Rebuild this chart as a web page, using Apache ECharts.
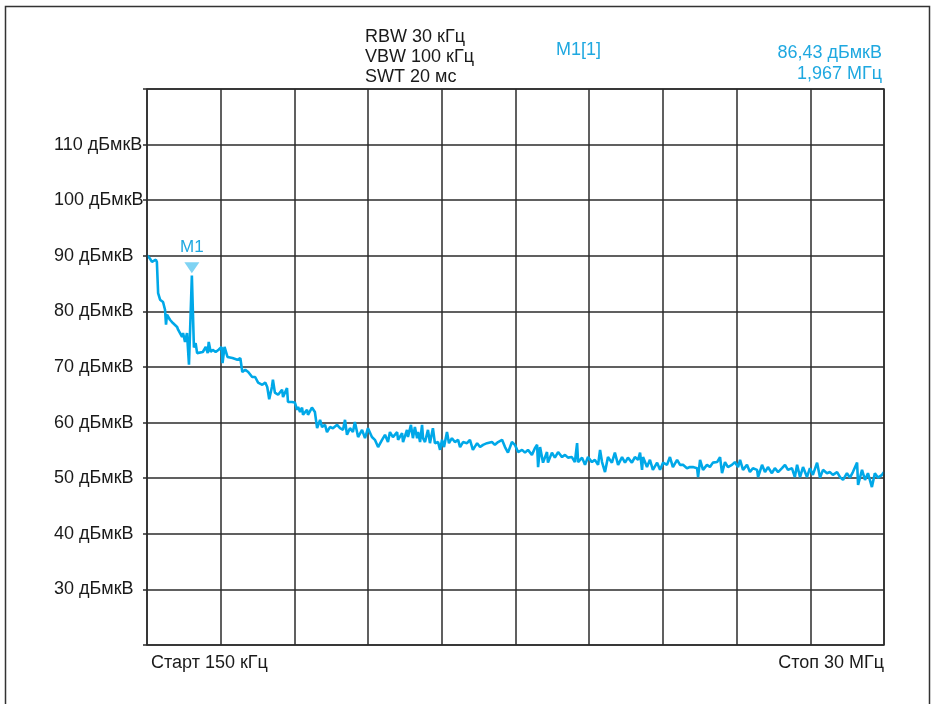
<!DOCTYPE html>
<html><head><meta charset="utf-8">
<script src="https://cdn.jsdelivr.net/npm/echarts@6/dist/echarts.min.js"></script>
<style>html,body{margin:0;padding:0;background:#fff}#c{width:934px;height:704px}</style>
</head><body><div id="c"></div>
<script>
// Frequency in MHz
const freqMHz = [
0.15,0.27,0.35,0.43,0.51,0.55,0.60,0.68,0.80,0.88,0.92,0.96,1.08,1.20,1.37,1.41,1.49,1.57,1.61,1.69,1.77,1.85,1.967,
2.05,2.12,2.18,2.24,2.41,2.53,2.61,2.65,2.73,2.81,2.93,3.05,3.17,3.21,3.29,3.41,3.61,3.81,3.93,4.01,4.13,4.25,4.41,4.53,4.65,4.82,4.94,5.02,5.10,
5.21,5.25,5.33,5.46,5.62,5.66,5.82,5.86,6.02,6.14,6.23,6.27,6.35,6.43,6.47,6.63,6.67,6.83,6.95,7.04,7.16,7.24,7.36,7.44,7.56,7.68,7.85,7.97,8.09,8.17,8.25,8.37,8.49,8.57,8.70,8.86,8.98,9.10,9.26,9.38,9.51,9.67,9.79,9.91,
9.99,10.11,10.28,10.32,10.48,10.52,10.68,10.72,10.84,10.92,11.00,11.09,11.13,11.21,11.29,11.33,11.41,11.53,11.61,11.73,11.81,11.94,12.02,12.10,12.18,12.30,12.38,12.50,12.62,12.75,12.83,12.95,13.11,13.23,13.35,13.52,13.64,13.76,13.92,14.12,14.24,14.37,14.53,14.65,
14.77,14.93,15.05,15.18,15.34,15.46,15.58,15.74,15.86,15.95,15.99,16.07,16.19,16.35,16.39,16.55,16.67,16.80,16.96,17.08,17.20,17.36,17.48,17.57,17.61,17.77,17.89,18.01,18.17,18.29,18.42,18.50,18.58,18.70,18.82,18.98,19.10,19.23,19.39,19.51,
19.63,19.79,19.91,20.04,20.12,20.20,20.24,20.40,20.52,20.64,20.81,20.93,21.05,21.21,21.33,21.45,21.62,21.74,21.86,22.02,22.14,22.26,22.43,22.47,22.55,22.67,22.83,22.95,23.07,23.24,23.36,23.44,23.56,23.68,23.84,23.96,24.09,24.17,24.29,24.45,24.57,
24.69,24.86,24.90,25.06,25.18,25.30,25.46,25.58,25.71,25.87,25.99,26.11,26.27,26.39,26.48,26.60,26.72,26.88,27.00,27.12,27.29,27.41,27.53,27.69,27.81,27.93,28.10,28.22,28.34,28.50,28.62,28.74,28.91,28.95,29.11,29.23,29.35,29.51,29.63,29.76,29.92,30.00
];
// Level in dBµV
const levelDb = [
90.1,89.5,88.9,88.7,89.3,88.9,83.3,82.1,81.7,80.3,77.6,79.4,78.5,77.9,77.2,76.7,77.0,75.4,76.1,74.5,76.1,70.4,86.43,
73.5,74.3,72.5,72.2,72.7,73.6,72.5,74.5,72.7,73.1,72.7,73.1,73.6,70.7,73.6,71.8,71.6,71.3,71.6,69.1,69.5,69.1,68.2,68.2,67.2,66.8,67.2,66.4,64.2,
66.4,67.7,65.4,65.0,65.9,64.6,66.2,63.7,63.7,63.6,62.3,62.8,61.9,62.7,61.4,62.3,61.4,62.7,61.9,59.0,60.5,59.2,59.6,58.3,59.2,59.0,59.6,59.0,58.7,60.5,57.8,59.0,58.3,60.1,57.4,58.7,57.2,59.0,57.4,56.9,55.6,56.9,57.8,56.5,
58.3,57.4,58.3,56.9,58.1,56.5,58.7,57.4,59.6,57.2,59.2,57.2,58.3,56.5,59.6,57.2,56.5,58.7,56.3,59.0,56.3,56.5,55.1,56.9,55.6,58.3,56.3,57.2,56.5,56.9,55.6,56.5,56.3,56.9,55.1,56.3,55.6,56.0,56.3,56.5,56.0,56.5,56.9,55.6,
54.6,56.5,56.0,54.7,55.1,54.6,55.1,54.2,55.4,56.0,52.0,55.6,52.8,54.7,52.8,54.6,53.7,54.7,53.8,54.2,53.7,53.8,52.9,56.3,52.9,53.7,52.4,53.8,52.9,53.3,52.4,55.1,52.9,51.1,53.8,52.8,54.6,52.4,53.8,52.8,
53.7,52.8,53.8,53.3,54.6,51.5,53.8,52.0,53.3,51.5,52.8,51.5,52.8,52.4,53.8,52.0,53.3,52.4,52.4,51.8,52.0,52.0,51.8,50.2,53.3,51.5,52.4,52.0,52.8,52.9,53.8,50.9,52.9,52.0,52.4,52.9,52.0,53.3,51.5,52.4,51.1,
51.8,51.5,50.2,52.4,51.1,52.0,50.9,51.8,51.1,51.8,52.4,51.5,51.8,50.2,52.4,50.2,52.0,50.2,51.8,50.6,52.8,50.1,51.5,50.9,51.1,50.6,51.1,50.2,49.7,50.9,50.1,51.1,52.8,48.8,51.5,49.7,50.9,48.4,50.9,50.1,50.6,51.1
];
const yTicks = [30,40,50,60,70,80,90,100,110];
const marker = {name:'M1', freq:1.967, level:86.43};
const headerLines = ['RBW 30 кГц','VBW 100 кГц','SWT 20 мс'];
const markerInfo = ['M1[1]','86,43 дБмкВ','1,967 МГц'];
const startLabel = 'Старт 150 кГц';
const stopLabel = 'Стоп 30 МГц';

const data = freqMHz.map((f,i)=>[f, levelDb[i]]);
const chart = echarts.init(document.getElementById('c'), null, {renderer:'canvas'});
const ff = "'Liberation Sans',Arial,sans-serif";
const gridColor = '#2b2b2b';
const blue = '#00a8e8';
const txt = (x,y,t,color,align)=>({type:'text', x:x, y:y, silent:true,
  style:{text:t, fill:color, font:'18px '+ff, align:align||'left', verticalAlign:'middle'}});
chart.setOption({
  animation:false,
  backgroundColor:'#fff',
  grid:{left:147, top:89, width:737, height:556, show:false},
  xAxis:[
    {type:'value', min:0.15, max:30, show:false, splitLine:{show:false}},
    {type:'value', min:0, max:10, interval:1, position:'bottom',
     axisLine:{show:false}, axisTick:{show:false}, axisLabel:{show:false},
     splitLine:{show:true, lineStyle:{color:gridColor, width:1.5}}}
  ],
  yAxis:{type:'value', min:20, max:120, interval:10,
    axisLine:{show:false},
    axisTick:{show:true, length:4, lineStyle:{color:gridColor, width:1.5}},
    axisLabel:{margin:93, align:'left', color:'#1a1a1a', fontSize:18, fontFamily:ff,
      formatter:v=> yTicks.includes(v) ? v+' дБмкВ' : ''},
    splitLine:{show:true, lineStyle:{color:gridColor, width:1.5}}},
  series:[{
    type:'line', data:data, xAxisIndex:0, showSymbol:false, symbol:'none',
    lineStyle:{color:blue, width:2.6}, itemStyle:{color:blue},
    markPoint:{
      symbol:'triangle', symbolSize:[15,11], symbolRotate:180, symbolOffset:[0,-8],
      itemStyle:{color:'#7fd3f3'},
      label:{show:true, position:'top', distance:6, formatter:marker.name, color:'#1fa8e0', fontSize:17, fontFamily:ff},
      data:[{coord:[marker.freq, marker.level]}]
    }
  }],
  graphic:[
    {type:'rect', shape:{x:5.5, y:6.5, width:924, height:720}, style:{fill:'none', stroke:'#333', lineWidth:1.5}, silent:true},
    {type:'rect', shape:{x:147, y:89, width:737, height:556}, style:{fill:'none', stroke:gridColor, lineWidth:1.5}, silent:true, z:10},
    ...headerLines.map((t,i)=>txt(365, 37+i*20, t, '#1a1a1a')),
    txt(556, 50, markerInfo[0], '#1fa8e0'),
    txt(882, 53, markerInfo[1], '#1fa8e0', 'right'),
    txt(882, 74, markerInfo[2], '#1fa8e0', 'right'),
    txt(151, 663, startLabel, '#1a1a1a'),
    txt(884, 663, stopLabel, '#1a1a1a', 'right')
  ]
});
</script></body></html>
